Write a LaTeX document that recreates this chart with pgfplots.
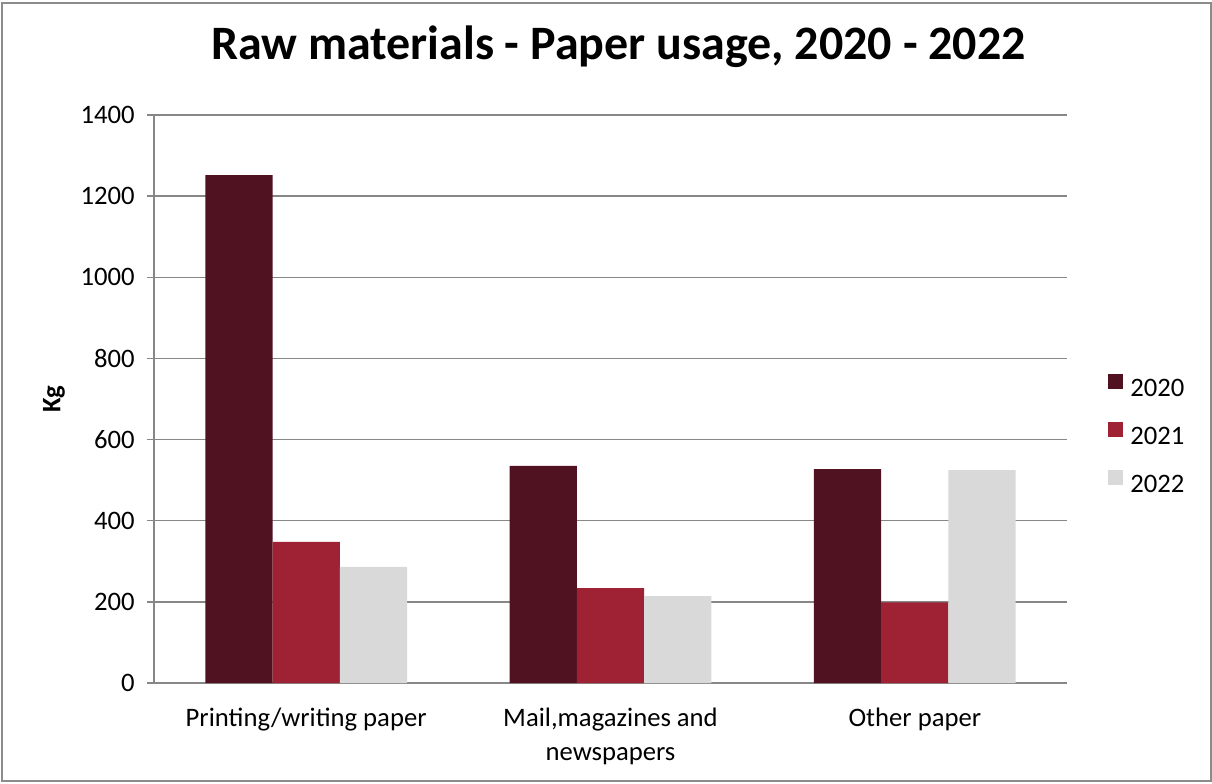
\documentclass[border=0pt]{standalone}
\usepackage{pgfplots}
\pgfplotsset{compat=1.18}
\usepackage{fontspec}
\setmainfont{Carlito}
\definecolor{c2020}{HTML}{501120}
\definecolor{c2021}{HTML}{9E2233}
\definecolor{c2022}{HTML}{D9D9D9}
\definecolor{gridgray}{HTML}{878787}
\definecolor{bordergray}{HTML}{8C8C8C}
\begin{document}
\begin{tikzpicture}
\useasboundingbox (0,0) rectangle (909pt,587.25pt);
\draw[bordergray, line width=1.5pt] (1.2pt,1.5pt) rectangle (907.9pt,585pt);
\node[font=\fontsize{36}{42}\selectfont\bfseries, anchor=base] at (463.9pt,542.25pt) {Raw materials - Paper usage, 2020 - 2022};
\begin{axis}[
  scale only axis,
  width=684.75pt, height=426pt,
  at={(115.5pt,75pt)}, anchor=south west,
  xmin=-0.5, xmax=2.5,
  ymin=0, ymax=1400,
  ytick={0,200,...,1400},
  xtick={0,1,2},
  xticklabels={Printing/writing paper, {Mail,magazines and\\newspapers}, Other paper},
  xticklabel style={align=center, font=\fontsize{20}{25.5}\selectfont, yshift=-10.5pt},
  yticklabel style={font=\fontsize{20}{24}\selectfont, xshift=-6pt},
  /pgf/number format/assume math mode=true,
  /pgf/number format/1000 sep={},
  scaled y ticks=false,
  axis x line*=bottom, axis y line*=left,
  axis line style={gridgray, line width=1.1pt},
  x axis line style={-},
  y axis line style={-},
  major x tick style={draw=none},
  major y tick style={gridgray, line width=1.1pt},
  tick align=outside,
  major tick length=5pt,
  ymajorgrids,
  grid style={gridgray, line width=1.1pt},
  ybar, bar width=0.221,
  ylabel={\bfseries Kg},
  ylabel style={font=\fontsize{20}{24}\selectfont, at={(axis description cs:-0.1095,0.5)}, anchor=center},
  legend style={draw=none, fill=none, at={(axis description cs:1.045,0.438)}, anchor=west,
    font=\fontsize{20}{24}\selectfont, row sep=17.25pt, inner sep=0pt,
    nodes={inner sep=0pt, anchor=west}},
  legend cell align=left,
  legend image code/.code={\fill[#1] (0pt,0pt) rectangle (11.25pt,11.25pt); \path (16.5pt,5pt);},
]
\addplot[fill=c2020, draw=none, bar shift=-0.221] coordinates {(0,1252) (1,535) (2,527)};
\addplot[fill=c2021, draw=none, bar shift=0] coordinates {(0,348) (1,234) (2,199)};
\addplot[fill=c2022, draw=none, bar shift=0.221] coordinates {(0,286) (1,214) (2,525)};
\legend{2020,2021,2022}
\end{axis}
\end{tikzpicture}
\end{document}
